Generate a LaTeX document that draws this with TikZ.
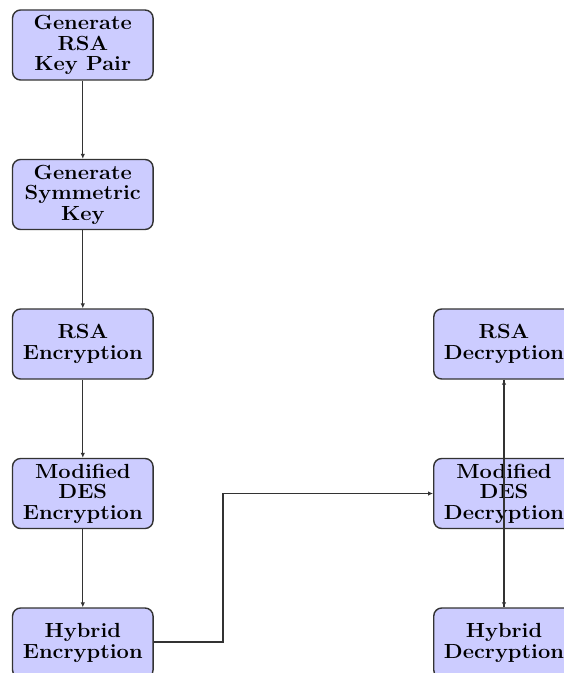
\documentclass[tikz,border=0pt]{standalone}
\usepackage{fontspec}
\newfontfamily\boxfont{Latin Modern Roman}[FakeStretch=1.07]
\usetikzlibrary{arrows.meta}
\begin{document}
\begin{tikzpicture}[x=1bp,y=-1bp,
  stepbox/.style={draw=black!80, line width=1.4bp, fill=blue!20, rounded corners=8bp,
    minimum width=140.5bp, minimum height=70bp, inner sep=0pt, align=center,
    font=\boxfont\fontsize{20.5}{20.5}\selectfont\bfseries},
  conn/.style={draw=black!80, line width=1.3bp, -{Latex[length=5bp,width=4.5bp]}}]
\clip (0,0) rectangle (564,673);
\node[stepbox] (gk) at (82.8,45) {Generate\\RSA\\Key Pair};
\node[stepbox] (gs) at (82.8,194.5) {Generate\\Symmetric\\Key};
\node[stepbox] (re) at (82.8,344) {RSA\\Encryption};
\node[stepbox] (me) at (82.8,493.5) {Modified\\DES\\Encryption};
\node[stepbox] (he) at (82.8,643) {Hybrid\\Encryption};
\node[stepbox] (rd) at (504,344) {RSA\\Decryption};
\node[stepbox] (md) at (504,493.5) {Modified\\DES\\Decryption};
\node[stepbox] (hd) at (504,643) {Hybrid\\Decryption};
\draw[conn] (gk) -- (gs);
\draw[conn] (gs) -- (re);
\draw[conn] (re) -- (me);
\draw[conn] (me) -- (he);
\coordinate (bend) at (223,642);
\draw[conn] (he.east |- bend) -- (bend) |- (md.west);
\draw[conn] (rd) -- (hd);
\draw[conn] (hd) -- (rd);
\end{tikzpicture}
\end{document}
